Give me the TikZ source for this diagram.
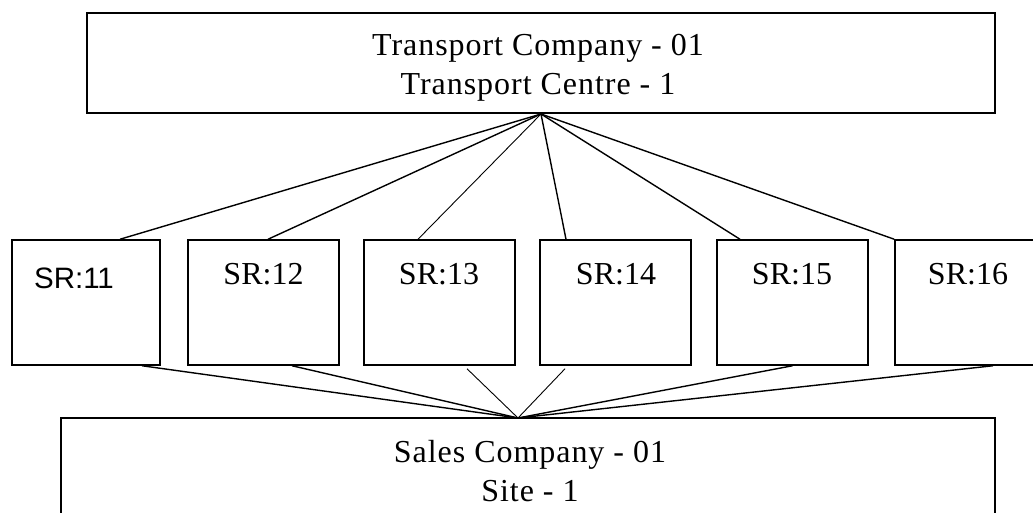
\documentclass[tikz,border=0pt]{standalone}
\usepackage{fontspec}
\setmainfont{Liberation Serif}
\newfontfamily\plainsans{Liberation Sans}
\newfontfamily\widerserif[LetterSpace=3]{Liberation Serif}
\begin{document}
\begin{tikzpicture}[x=1pt,y=-1pt,
  box/.style={draw, line width=1.5pt, inner sep=0pt},
  srbox/.style={box, minimum height=125pt},
  link/.style={line width=1.4pt},
  thinlink/.style={line width=0.9pt},
  lbl/.style={inner sep=0pt, anchor=base, font=\fontsize{32}{39}\selectfont},
  widelbl/.style={lbl, font=\widerserif\fontsize{32}{39}\selectfont},
  sanslbl/.style={inner sep=0pt, anchor=base, font=\plainsans\fontsize{29.5}{36}\selectfont}]
\clip (0,0) rectangle (1033,513);
\fill[white] (0,0) rectangle (1033,513);

% top level: transport company
\node[box, minimum width=908pt, minimum height=100pt] (tc) at (541,63) {};
\node[widelbl] (tctext1) at (538,56) {Transport Company - 01};
\node[widelbl] (tctext2) at (538,95) {Transport Centre - 1};

% shipping routes
\node[srbox, minimum width=148pt] (sr11) at (86,302.5) {};
\node[srbox, minimum width=151pt] (sr12) at (263.5,302.5) {};
\node[srbox, minimum width=151pt] (sr13) at (439.5,302.5) {};
\node[srbox, minimum width=151pt] (sr14) at (615.5,302.5) {};
\node[srbox, minimum width=151pt] (sr15) at (792.5,302.5) {};
\node[srbox, minimum width=150pt] (sr16) at (970,302.5) {};

\node[sanslbl] (sr11text) at (74,288) {SR:11};
\node[lbl] (sr12text) at (263.5,284) {SR:12};
\node[lbl] (sr13text) at (439,284) {SR:13};
\node[lbl] (sr14text) at (616,284) {SR:14};
\node[lbl] (sr15text) at (792,284) {SR:15};
\node[lbl] (sr16text) at (968,284) {SR:16};

% bottom level: sales company (runs past the lower edge)
\node[box, minimum width=934pt, minimum height=112pt] (sc) at (528,474) {};
\node[widelbl] (sctext1) at (530,462) {Sales Company - 01};
\node[widelbl] (sctext2) at (530,501) {Site - 1};

% meeting points of the connectors
\coordinate (tchub) at (541,114);
\coordinate (schub) at (518,418);

% transport centre to the routes
\draw[link] (tchub) -- ([xshift=34pt]sr11.north);
\draw[link] (tchub) -- ([xshift=4.5pt]sr12.north);
\draw[thinlink] (tchub) -- ([xshift=-21.5pt]sr13.north);
\draw[link] (tchub) -- ([xshift=-49.5pt]sr14.north);
\draw[link] (tchub) -- ([xshift=-52.5pt]sr15.north);
\draw[link] (tchub) -- (sr16.north west);

% routes to the sales site
\draw[link] ([xshift=56pt]sr11.south) -- (schub);
\draw[link] ([xshift=28.5pt]sr12.south) -- (schub);
\draw[thinlink] ([xshift=27.5pt,yshift=-3pt]sr13.south) -- (schub);
\draw[thinlink] ([xshift=-50.5pt,yshift=-3pt]sr14.south) -- (schub);
\draw[link] (sr15.south) -- (schub);
\draw[link] ([xshift=23pt]sr16.south) -- (schub);
\end{tikzpicture}
\end{document}
